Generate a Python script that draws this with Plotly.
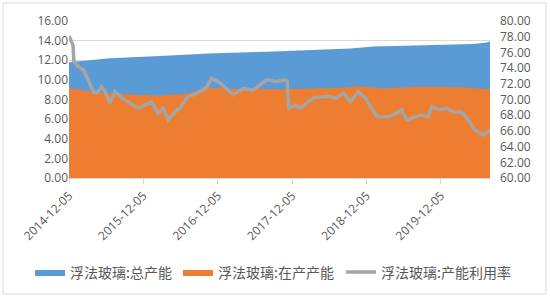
import plotly.graph_objects as go

# Total capacity (浮法玻璃:总产能)
total_dates = ["2014-12-05", "2015-06-24", "2016-02-25", "2016-10-17", "2017-08-01",
               "2018-06-25", "2018-09-16", "2019-01-08", "2019-09-08", "2020-05-12",
               "2020-07-16", "2020-08-02"]
total_vals = [11.8, 12.2, 12.44, 12.7, 12.87, 13.1, 13.2, 13.4, 13.55, 13.66, 13.8, 13.9]

# In-production capacity (浮法玻璃:在产产能)
prod_dates = ["2014-12-05", "2015-04-03", "2015-09-14", "2016-02-25", "2016-07-02",
              "2016-09-08", "2016-10-17", "2017-02-18", "2017-10-20", "2018-07-28",
              "2018-10-26", "2019-02-10", "2019-09-08", "2020-03-16", "2020-07-16",
              "2020-08-02"]
prod_vals = [9.15, 8.8, 8.5, 8.4, 8.55, 8.95, 9.2, 9.1, 9.05, 9.2, 9.35, 9.15, 9.3,
             9.25, 9.1, 9.05]

# Utilisation rate (浮法玻璃:产能利用率), right axis
rate_dates = ["2014-12-05", "2014-12-25", "2014-12-29", "2015-01-20", "2015-02-13",
              "2015-03-10", "2015-04-03", "2015-04-20", "2015-05-14", "2015-05-31",
              "2015-06-24", "2015-07-19", "2015-08-21", "2015-09-22", "2015-11-10",
              "2015-12-13", "2016-01-15", "2016-02-16", "2016-03-12", "2016-04-05",
              "2016-05-08", "2016-06-02", "2016-07-05", "2016-08-06", "2016-09-08",
              "2016-10-11", "2016-11-04", "2016-12-15", "2017-02-18", "2017-04-08",
              "2017-05-28", "2017-08-01", "2017-09-20", "2017-10-30", "2017-11-10",
              "2017-11-18", "2017-12-20", "2018-01-13", "2018-03-20", "2018-05-24",
              "2018-07-12", "2018-08-14", "2018-09-16", "2018-10-26", "2018-11-28",
              "2019-01-25", "2019-03-30", "2019-05-26", "2019-06-20", "2019-08-24",
              "2019-10-04", "2019-10-21", "2019-11-30", "2020-01-02", "2020-02-04",
              "2020-03-16", "2020-04-17", "2020-05-20", "2020-06-30", "2020-08-02"]
rate_vals = [78.1, 76.9, 74.8, 74.2, 73.8, 72.5, 71.0, 70.8, 71.6, 71.0,
             69.5, 71.0, 70.2, 69.7, 68.9, 69.3, 69.7, 68.2, 68.9, 67.4,
             68.4, 68.9, 70.2, 70.6, 71.0, 71.6, 72.7, 72.1, 70.6, 71.4,
             71.2, 72.5, 72.3, 72.5, 72.4, 68.9, 69.3, 68.9, 70.2, 70.4,
             70.2, 70.8, 69.7, 71.0, 70.2, 67.8, 67.8, 68.7, 67.4, 68.0,
             67.8, 69.1, 68.7, 68.9, 68.4, 68.4, 67.4, 66.1, 65.5, 66.1]

tick_dates = ["2014-12-05", "2015-12-05", "2016-12-05", "2017-12-05", "2018-12-05", "2019-12-05"]
tick_text = tick_dates

names = ["浮法玻璃:总产能", "浮法玻璃:在产产能", "浮法玻璃:产能利用率"]

fig = go.Figure()
fig.add_trace(go.Scatter(x=total_dates, y=total_vals, name=names[0], mode="lines",
                         fill="tozeroy", fillcolor="#5b9bd5",
                         line=dict(width=0, color="#5b9bd5"), legend="legend"))
fig.add_trace(go.Scatter(x=prod_dates, y=prod_vals, name=names[1], mode="lines",
                         fill="tozeroy", fillcolor="#ed7d31",
                         line=dict(width=0, color="#ed7d31"), legend="legend2"))
fig.add_trace(go.Scatter(x=rate_dates, y=rate_vals, name=names[2], mode="lines",
                         yaxis="y2", line=dict(width=3.5, color="#a5a5a5"),
                         legend="legend3"))

tickfont = dict(family="Open Sans, Liberation Sans, sans-serif", size=12, color="#595959")
legfont = dict(family="Noto Sans CJK SC", size=14, color="#595959")


def leg(xpx):
    return dict(orientation="h", xref="container", yref="container",
                x=xpx / 550, xanchor="left", y=1 - 272.5 / 299, yanchor="middle",
                font=legfont, itemwidth=30, bgcolor="rgba(0,0,0,0)")


fig.update_layout(
    width=550, height=299,
    margin=dict(l=69, r=60, t=21, b=121, autoexpand=False),
    paper_bgcolor="white", plot_bgcolor="white",
    showlegend=True,
    legend=leg(30), legend2=leg(178), legend3=leg(341),
    xaxis=dict(type="date", range=["2014-12-05", "2020-08-02"],
               tickvals=tick_dates, ticktext=tick_text, tickangle=-45,
               tickfont=tickfont, showgrid=False, showline=True, linecolor="#d9d9d9",
               ticks="outside", ticklen=5, tickcolor="#d9d9d9", zeroline=False,
               automargin=False),
    yaxis=dict(range=[0, 16], dtick=2, tickformat=".2f", tickfont=tickfont,
               showgrid=True, gridcolor="#d9d9d9", zeroline=False, showline=False,
               automargin=False),
    yaxis2=dict(range=[60, 80], dtick=2, tickformat=".2f", tickfont=tickfont,
                overlaying="y", side="right", showgrid=False, zeroline=False,
                automargin=False, ticklabelstandoff=9),
    shapes=[dict(type="rect", xref="paper", yref="paper",
                 x0=(3 - 69) / 421, x1=(546 - 69) / 421,
                 y0=(178 - 294) / 157, y1=(178 - 3) / 157,
                 line=dict(color="#d9d9d9", width=1), fillcolor="rgba(0,0,0,0)",
                 layer="below")],
)

fig.write_html("out.html")
